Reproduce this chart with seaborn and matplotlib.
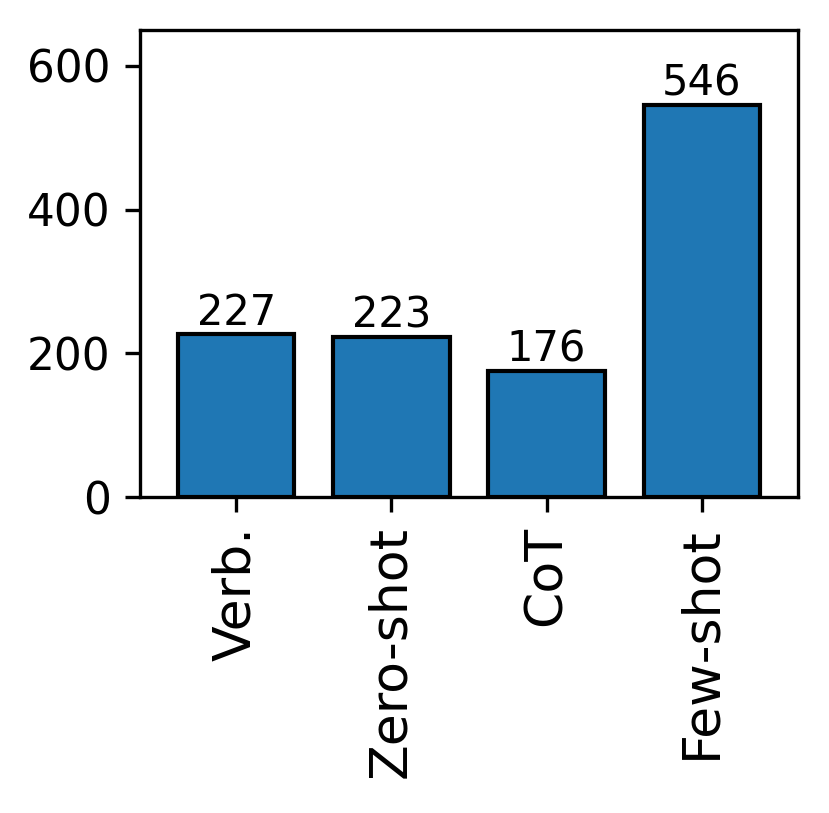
import pandas as pd
import seaborn as sns
import matplotlib.pyplot as plt

# Data
methods = ["Verb.", "Zero-shot", "CoT", "Few-shot"]
counts = [227, 223, 176, 546]

df = pd.DataFrame({"Method": methods, "Count": counts})

fig = plt.figure(figsize=(8.29 / 3, 8.13 / 3), dpi=300)
ax = fig.add_axes([140 / 829, 1 - 497 / 813, 658 / 829, 467 / 813])

bars = sns.barplot(data=df, x="Method", y="Count", color="#1f77b4",
                   saturation=1, width=0.75, edgecolor="black",
                   linewidth=1, ax=ax)
ax.bar_label(ax.containers[0], fontsize=10, padding=0)

ax.set_xlim(-0.62, 3.62)
ax.set_ylim(0, 650)
ax.set_yticks([0, 200, 400, 600])
ax.set(xlabel="", ylabel="")
ax.tick_params(axis="y", labelsize=10.5)
ax.tick_params(axis="x", labelsize=12.5, labelrotation=90)

fig.savefig("out.png", dpi=300)
